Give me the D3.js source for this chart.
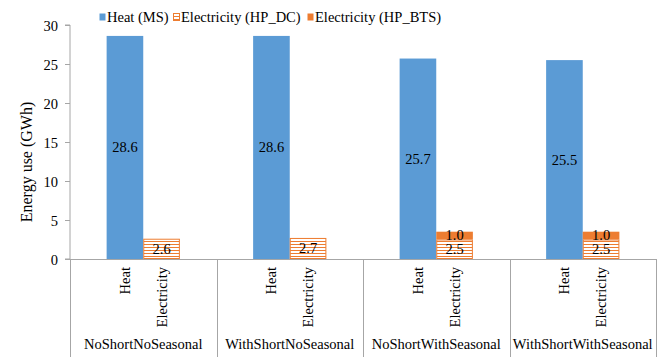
<!DOCTYPE html>
<html><head><meta charset="utf-8">
<script src="https://cdn.jsdelivr.net/npm/d3@7"></script>
</head><body style="margin:0"><svg id="c" width="670" height="360" style="display:block"></svg>
<script>
const groups = ["NoShortNoSeasonal","WithShortNoSeasonal","NoShortWithSeasonal","WithShortWithSeasonal"];
const subCats = ["Heat","Electricity"];
const heatMS = [28.6, 28.6, 25.7, 25.5];
const elecDC = [2.6, 2.7, 2.5, 2.5];
const elecBTS = [0, 0, 1.0, 1.0];
const yTicks = [0,5,10,15,20,25,30];
const legendLabels = ["Heat (MS)","Electricity (HP_DC)","Electricity (HP_BTS)"];

const BLUE="#5B9BD5", ORANGE="#ED7D31", AXIS="#A6A6A6";
const FONT='"Liberation Serif"';
const FS=14.5;
const svg=d3.select("#c");
const defs=svg.append("defs");
const pat=defs.append("pattern").attr("id","hstripe").attr("patternUnits","userSpaceOnUse").attr("width",4).attr("height",3);
pat.append("rect").attr("width",4).attr("height",3).attr("fill","#fff");
pat.append("rect").attr("y",1).attr("width",4).attr("height",1).attr("fill",ORANGE);

const L=70,R=656,T=25,B=259;
const y=d3.scaleLinear().domain([0,30]).range([B,T]);
const gx=d3.scaleBand().domain(groups).range([L,R]).padding(0);
const sx=d3.scaleBand().domain(["_a"].concat(subCats,["_b"])).range([0,gx.bandwidth()]).padding(0);

function txt(sel){return sel.append("text").style("font-family",FONT).style("font-size",FS+"px");}

// bars
groups.forEach((g,i)=>{
  const x0=gx(g);
  const hx=x0+sx("Heat"), ex=x0+sx("Electricity"), w=sx.bandwidth();
  svg.append("rect").attr("x",hx).attr("y",y(heatMS[i])).attr("width",w).attr("height",y(0)-y(heatMS[i])).attr("fill",BLUE);
  svg.append("rect").attr("x",ex+0.5).attr("y",y(elecDC[i])+0.5).attr("width",w-1).attr("height",y(0)-y(elecDC[i])-1).attr("fill","url(#hstripe)").attr("stroke",ORANGE).attr("stroke-width",1);
  if(elecBTS[i]>0){
    svg.append("rect").attr("x",ex).attr("y",y(elecDC[i]+elecBTS[i])).attr("width",w).attr("height",y(elecDC[i])-y(elecDC[i]+elecBTS[i])).attr("fill",ORANGE);
  }
  const lab=(cx,cy,v)=>txt(svg).attr("x",cx).attr("y",cy+5).attr("text-anchor","middle").text(d3.format(".1f")(v));
  lab(hx+w/2,(y(heatMS[i])+y(0))/2,heatMS[i]);
  lab(ex+w/2,(y(elecDC[i])+y(0))/2,elecDC[i]);
  if(elecBTS[i]>0) lab(ex+w/2,(y(elecDC[i]+elecBTS[i])+y(elecDC[i]))/2-1,elecBTS[i]);
  subCats.forEach(s=>{
    txt(svg).attr("transform",`translate(${x0+sx(s)+w/2+5},267) rotate(-90)`).attr("text-anchor","end").text(s);
  });
  txt(svg).attr("x",x0+gx.bandwidth()/2).attr("y",349).attr("text-anchor","middle").text(g);
});

// y axis
const ya=svg.append("g").attr("transform",`translate(${L},0)`).call(d3.axisLeft(y).tickValues(yTicks).tickSize(5).tickPadding(7).tickFormat(d3.format("d")));
ya.attr("font-family",null).attr("font-size",null);
ya.select(".domain").attr("stroke",AXIS).attr("d",`M-5,${B}H0V${T}H-5`);
ya.selectAll(".tick line").attr("stroke",AXIS);
ya.selectAll(".tick text").attr("dy",null).attr("y",5).style("font-family",FONT).style("font-size",FS+"px");

txt(svg).attr("transform","translate(32,162) rotate(-90)").attr("text-anchor","middle").style("font-size","16px").text("Energy use (GWh)");

// x axis lines
svg.append("line").attr("x1",L).attr("x2",R).attr("y1",B+0.5).attr("y2",B+0.5).attr("stroke",AXIS);
groups.concat(["_end"]).forEach((g,i)=>{
  const xx=Math.round(i<groups.length?gx(g):R)+0.5;
  svg.append("line").attr("x1",xx).attr("x2",xx).attr("y1",B).attr("y2",357).attr("stroke",AXIS);
});

// legend
const lg=svg.append("g");
const lx=[99,173,307];
legendLabels.forEach((t,i)=>{
  const fill=i===0?BLUE:(i===1?"url(#hstripe)":ORANGE);
  lg.append("rect").attr("x",lx[i]+0.5).attr("y",13.5).attr("width",6).attr("height",7).attr("fill",fill).attr("stroke",i===1?ORANGE:"none");
  txt(lg).attr("x",lx[i]+8).attr("y",22).text(t);
});
</script></body></html>
